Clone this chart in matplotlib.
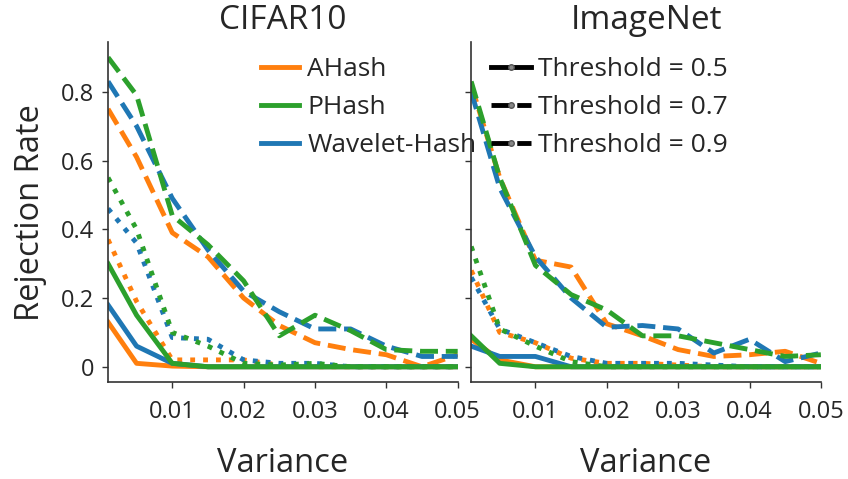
import matplotlib
matplotlib.use("Agg")
import matplotlib.pyplot as plt
from matplotlib.lines import Line2D

plt.rcParams['font.family'] = ['Open Sans', 'DejaVu Sans']
plt.rcParams['text.color'] = '#262626'
plt.rcParams['axes.labelcolor'] = '#262626'
plt.rcParams['xtick.color'] = '#262626'
plt.rcParams['ytick.color'] = '#262626'

variance = [0.001, 0.005, 0.01, 0.015, 0.02, 0.025, 0.03, 0.035, 0.04, 0.045, 0.05]

# CIFAR10
cifar_ahash_05 = [0.13, 0.01, 0.002, 0, 0, 0, 0, 0, 0, 0, 0]
cifar_ahash_07 = [0.75, 0.61, 0.39, 0.32, 0.20, 0.12, 0.07, 0.05, 0.035, 0.0, 0.035]
cifar_ahash_09 = [0.37, 0.19, 0.02, 0.02, 0.02, 0.005, 0, 0, 0, 0, 0]
cifar_phash_05 = [0.30, 0.15, 0.01, 0, 0, 0, 0, 0, 0, 0, 0]
cifar_phash_07 = [0.90, 0.79, 0.44, 0.355, 0.25, 0.09, 0.15, 0.105, 0.05, 0.045, 0.045]
cifar_phash_09 = [0.55, 0.40, 0.10, 0.06, 0.01, 0.005, 0.01, 0, 0, 0, 0]
cifar_whash_05 = [0.18, 0.06, 0.01, 0, 0, 0, 0, 0, 0, 0, 0]
cifar_whash_07 = [0.83, 0.70, 0.49, 0.34, 0.22, 0.16, 0.11, 0.11, 0.06, 0.03, 0.03]
cifar_whash_09 = [0.46, 0.36, 0.085, 0.08, 0.02, 0.01, 0.01, 0, 0, 0, 0]

# ImageNet
imnet_ahash_05 = [0.08, 0.02, 0, 0, 0, 0, 0, 0, 0, 0, 0]
imnet_ahash_07 = [0.82, 0.55, 0.31, 0.29, 0.125, 0.09, 0.05, 0.03, 0.035, 0.045, 0.01]
imnet_ahash_09 = [0.28, 0.10, 0.07, 0.025, 0.01, 0.01, 0.005, 0, 0, 0, 0]
imnet_phash_05 = [0.09, 0.01, 0, 0, 0, 0, 0, 0, 0, 0, 0]
imnet_phash_07 = [0.83, 0.55, 0.295, 0.21, 0.165, 0.09, 0.09, 0.07, 0.05, 0.03, 0.035]
imnet_phash_09 = [0.35, 0.11, 0.06, 0.015, 0, 0, 0, 0, 0, 0, 0]
imnet_whash_05 = [0.06, 0.03, 0.03, 0, 0, 0, 0, 0, 0, 0, 0]
imnet_whash_07 = [0.80, 0.52, 0.32, 0.20, 0.115, 0.12, 0.11, 0.04, 0.08, 0.015, 0.04]
imnet_whash_09 = [0.26, 0.11, 0.07, 0.03, 0.01, 0.01, 0.01, 0.005, 0, 0, 0]

hashNames = ["AHash", "PHash", "Wavelet-Hash"]
thresholds = [0.5, 0.7, 0.9]
colors = {"AHash": "#ff7f0e", "PHash": "#2ca02c", "Wavelet-Hash": "#1f77b4"}
styles = ["-", "--", ":"]

datasets = {
    "CIFAR10": {"AHash": [cifar_ahash_05, cifar_ahash_07, cifar_ahash_09],
                "PHash": [cifar_phash_05, cifar_phash_07, cifar_phash_09],
                "Wavelet-Hash": [cifar_whash_05, cifar_whash_07, cifar_whash_09]},
    "ImageNet": {"AHash": [imnet_ahash_05, imnet_ahash_07, imnet_ahash_09],
                 "PHash": [imnet_phash_05, imnet_phash_07, imnet_phash_09],
                 "Wavelet-Hash": [imnet_whash_05, imnet_whash_07, imnet_whash_09]},
}

fig, axes = plt.subplots(1, 2, sharey=True, figsize=(8.48, 4.79), dpi=100)
fig.subplots_adjust(left=0.1274, right=0.968, bottom=0.202, top=0.9125, wspace=0.0386)

drawOrder = ["AHash", "Wavelet-Hash", "PHash"]
for ax, name in zip(axes, datasets):
    ax.patch.set_alpha(0)  # so the left legend text can run over the right panel
    for h in drawOrder:
        for iT in range(len(thresholds)):
            ax.plot(variance, datasets[name][h][iT], color=colors[h],
                    linestyle=styles[iT], linewidth=3.5)
    ax.set_xlim(0.001, 0.05)
    ax.set_xticks([0.01, 0.02, 0.03, 0.04, 0.05])
    ax.set_xticklabels(["0.01", "0.02", "0.03", "0.04", "0.05"])
    ax.set_title(name, fontsize=24, pad=9)
    ax.set_xlabel("Variance", fontsize=23.5, labelpad=16)
    ax.spines['top'].set_visible(False)
    ax.spines['right'].set_visible(False)
    for s in ['left', 'bottom']:
        ax.spines[s].set_color('#333333')
        ax.spines[s].set_linewidth(1.2)
    ax.tick_params(axis='both', labelsize=17, direction='out', length=4, width=1,
                   color='#333333', pad=6)
    ax.tick_params(axis='x', pad=9)

axes[0].set_yticks([0, 0.2, 0.4, 0.6, 0.8])
axes[0].set_yticklabels(["0", "0.2", "0.4", "0.6", "0.8"])
axes[0].set_ylabel("Rejection Rate", fontsize=23.5, labelpad=10)

hashHandles = [Line2D([0], [0], color=colors[h], lw=3.5) for h in hashNames]
axes[0].legend(hashHandles, hashNames, loc='upper left', bbox_to_anchor=(0.4, 0.995),
               frameon=False, fontsize=19, handlelength=1.45, handletextpad=0.3,
               labelspacing=0.5, borderaxespad=0.1)

thrHandles = [Line2D([0], [0], color='k', lw=3.5, linestyle=ls, marker='o', markersize=4,
                     markerfacecolor='#888888', markeredgecolor='#555555')
              for ls in ["-", "--", "--"]]
axes[1].legend(thrHandles, ["Threshold = " + str(t) for t in thresholds],
               loc='upper left', bbox_to_anchor=(0.02, 0.995), frameon=False, fontsize=19,
               handlelength=1.5, handletextpad=0.25, labelspacing=0.5, borderaxespad=0.1)

plt.savefig("out.png", dpi=100)
